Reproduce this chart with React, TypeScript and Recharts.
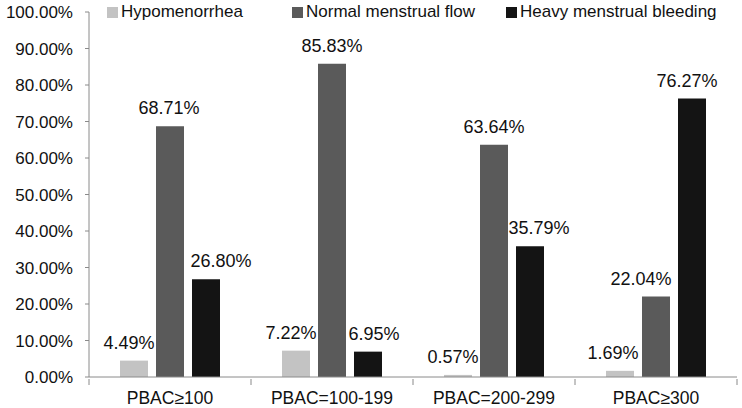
import { Bar, BarChart, LabelList, XAxis, YAxis } from "recharts";

const categories = ["PBAC≥100", "PBAC=100-199", "PBAC=200-299", "PBAC≥300"];
const hypomenorrhea = [4.49, 7.22, 0.57, 1.69];
const normalFlow = [68.71, 85.83, 63.64, 22.04];
const heavyBleeding = [26.8, 6.95, 35.79, 76.27];
const yTicks = [0, 10, 20, 30, 40, 50, 60, 70, 80, 90, 100];

const series = [
  { key: "hypo", name: "Hypomenorrhea", color: "#c3c3c3" },
  { key: "normal", name: "Normal menstrual flow", color: "#5a5a5a" },
  { key: "heavy", name: "Heavy menstrual bleeding", color: "#141414" },
];

// horizontal nudges of the value labels, as placed in the original figure
const labelDx: Record<string, number[]> = {
  hypo: [-5, -5, -5, -7],
  normal: [-1, 0, 0, -15],
  heavy: [15, 6, 9, -5],
};

const data = categories.map((c, i) => ({
  cat: c,
  hypo: hypomenorrhea[i],
  normal: normalFlow[i],
  heavy: heavyBleeding[i],
}));

const font = "'Liberation Sans', Arial, sans-serif";
const axisColor = "#8a8a8a";
const fs = 17;
const W = 742;
const H = 408;
const M = { top: 12, right: 5, bottom: 0, left: 0 };
const yWidth = 89;
const band = (W - M.right - yWidth) / categories.length;

function LegendBox() {
  const pos = [107, 292, 506];
  return (
    <div style={{ position: "absolute", top: 0, left: 0, height: 24, width: W, fontFamily: font, fontSize: fs, color: "#111" }}>
      {series.map((s, i) => (
        <div key={s.key} style={{ position: "absolute", left: pos[i], top: 2, display: "flex", alignItems: "center", whiteSpace: "nowrap" }}>
          <span style={{ display: "inline-block", width: 11, height: 11, background: s.color, marginRight: 3 }} />
          <span>{s.name}</span>
        </div>
      ))}
    </div>
  );
}

function CatTick(props: any) {
  const { x, y, payload } = props;
  const idx = payload.index ?? 0;
  const left = x - band / 2;
  const right = x + band / 2;
  return (
    <g>
      <line x1={left} x2={left} y1={y} y2={y + 6} stroke={axisColor} />
      {idx === categories.length - 1 && <line x1={right} x2={right} y1={y} y2={y + 6} stroke={axisColor} />}
      <text x={x} y={y + 25} textAnchor="middle" fill="#111" fontSize={17.5} fontFamily={font}>
        {payload.value}
      </text>
    </g>
  );
}

function makeLabel(key: string) {
  return (p: any) => {
    const dx = labelDx[key][p.index] ?? 0;
    return (
      <text
        x={Number(p.x) + Number(p.width) / 2 + dx}
        y={Number(p.y) - 12}
        textAnchor="middle"
        fill="#111"
        fontSize={18}
        fontFamily={font}
      >
        {`${Number(p.value).toFixed(2)}%`}
      </text>
    );
  };
}

export default function App() {
  return (
    <div style={{ position: "absolute", left: 0, top: 0, width: W, height: H, background: "#fff" }}>
      <BarChart width={W} height={H} data={data} margin={M} barCategoryGap={31} barGap={8}>
        <YAxis
          domain={[0, 100]}
          ticks={yTicks}
          interval={0}
          width={yWidth}
          tickSize={4}
          tickMargin={12}
          tickFormatter={(v: number) => `${v.toFixed(2)}%`}
          stroke={axisColor}
          tick={{ fill: "#111", fontSize: fs, fontFamily: font }}
        />
        <XAxis
          dataKey="cat"
          height={31}
          tickLine={false}
          tickSize={0}
          interval={0}
          stroke={axisColor}
          tick={<CatTick />}
        />
        {series.map((s) => (
          <Bar key={s.key} dataKey={s.key} name={s.name} fill={s.color} isAnimationActive={false}>
            <LabelList dataKey={s.key} content={makeLabel(s.key)} />
          </Bar>
        ))}
      </BarChart>
      <LegendBox />
    </div>
  );
}
